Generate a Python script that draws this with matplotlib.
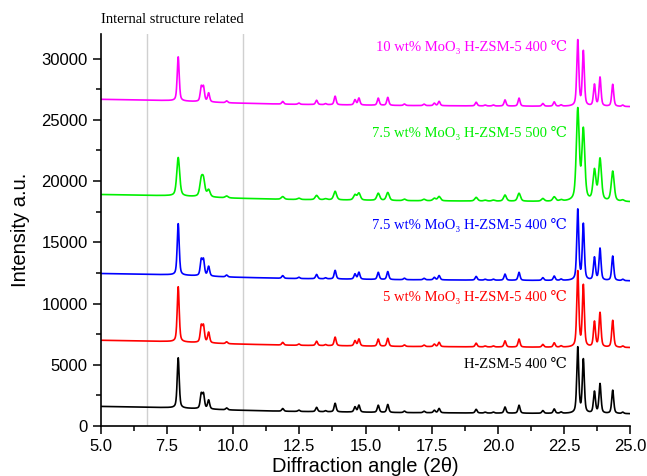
import numpy as np
import matplotlib
matplotlib.use("Agg")
import matplotlib.pyplot as plt
from matplotlib.ticker import MultipleLocator

plt.rcParams['font.family'] = ['Liberation Sans', 'DejaVu Sans']

# sample labels, colours (bottom to top)
labels = ["H-ZSM-5 400 \u2103",
          "5 wt% MoO\u2083 H-ZSM-5 400 \u2103",
          "7.5 wt% MoO\u2083 H-ZSM-5 400 \u2103",
          "7.5 wt% MoO\u2083 H-ZSM-5 500 \u2103",
          "10 wt% MoO\u2083 H-ZSM-5 400 \u2103"]
colors = ["#000000", "#ff0000", "#0000ff", "#00f000", "#ff00ff"]

# vertical offset of each pattern (counts)
offsets = [0, 5400, 10850, 17300, 25070]
label_y = [5050, 10520, 16390, 23890, 30980]

# background of the H-ZSM-5 pattern, read at a few angles
base_x = [5.0, 7.5, 10.0, 12.0, 16.0, 20.0, 25.0]
base_y = [1600, 1500, 1300, 1200, 1100, 1050, 1000]

# strong reflections (2theta) and their heights for each sample
major_pos = [7.92, 8.79, 8.875, 9.07, 23.02, 23.23, 23.65, 23.86, 24.34]
major_h = [
    [4100, 1150, 1150, 720, 5350, 4350, 1750, 2400, 1900],
    [4500, 1300, 1300, 850, 6150, 5000, 2050, 2800, 2200],
    [4200, 1250, 1250, 780, 5750, 4550, 1850, 2600, 2000],
    [3150, 1250, 1250, 560, 7400, 5700, 2450, 3400, 2450],
    [3600, 1150, 1150, 720, 5350, 4450, 1750, 2350, 1800],
]
# weak reflections, common to all samples
minor_pos = [9.75, 11.87, 12.48, 13.15, 13.49, 13.85, 14.60, 14.75, 15.48, 15.84,
             16.47, 17.21, 17.60, 17.78, 19.18, 19.52, 19.83, 20.27, 20.80, 21.70,
             22.13, 22.39, 24.72]
minor_h = [150, 220, 110, 350, 80, 700, 420, 560, 580, 650,
           120, 120, 200, 350, 300, 70, 80, 500, 650, 220,
           350, 100, 110]
fwhm = [0.09, 0.09, 0.09, 0.13, 0.09]

x = np.linspace(5, 25, 4001)


def profile(pos, h, w):
    g = np.exp(-4 * np.log(2) * ((x - pos) / w) ** 2)
    l = 1 / (1 + 4 * ((x - pos) / w) ** 2)
    return h * (0.5 * g + 0.5 * l)


fig = plt.figure(figsize=(6.47, 4.76), dpi=100)
ax = fig.add_axes([0.156, 0.105, 0.818, 0.8235])

for xv in [6.74, 10.37]:
    ax.axvline(xv, color='#d0d0d0', lw=1, zorder=0)

for i in reversed(range(len(labels))):
    y = np.interp(x, base_x, base_y) + offsets[i]
    for p, h in zip(major_pos, major_h[i]):
        y = y + profile(p, h, fwhm[i])
    for p, h in zip(minor_pos, minor_h):
        y = y + profile(p, h, fwhm[i])
    ax.plot(x, y, color=colors[i], lw=1.2)
    ax.text(22.6, label_y[i], labels[i], color=colors[i], ha='right', va='center',
            fontsize=10.5, family=['Liberation Serif', 'DejaVu Serif'])

ax.text(5.0, 1.036, "Internal structure related", transform=ax.get_xaxis_transform(),
        ha='left', va='center', fontsize=10.5, family=['Liberation Serif', 'DejaVu Serif'])

ax.set_xlim(5, 25)
ax.set_ylim(0, 32000)
ax.xaxis.set_major_locator(MultipleLocator(2.5))
ax.xaxis.set_minor_locator(MultipleLocator(1.25))
ax.yaxis.set_major_locator(MultipleLocator(5000))
ax.yaxis.set_minor_locator(MultipleLocator(2500))
ax.xaxis.set_major_formatter(plt.FormatStrFormatter('%.1f'))
ax.spines['top'].set_visible(False)
ax.spines['right'].set_visible(False)
for s in ['left', 'bottom']:
    ax.spines[s].set_linewidth(1.2)
ax.tick_params(which='major', direction='out', length=6, width=1.1, labelsize=12)
ax.tick_params(which='minor', direction='out', length=3.5, width=1.1)
ax.set_xlabel("Diffraction angle (2\u03b8)", fontsize=14.5, labelpad=2)
ax.set_ylabel("Intensity a.u.", fontsize=14.5, labelpad=8)

plt.savefig('out.png')
